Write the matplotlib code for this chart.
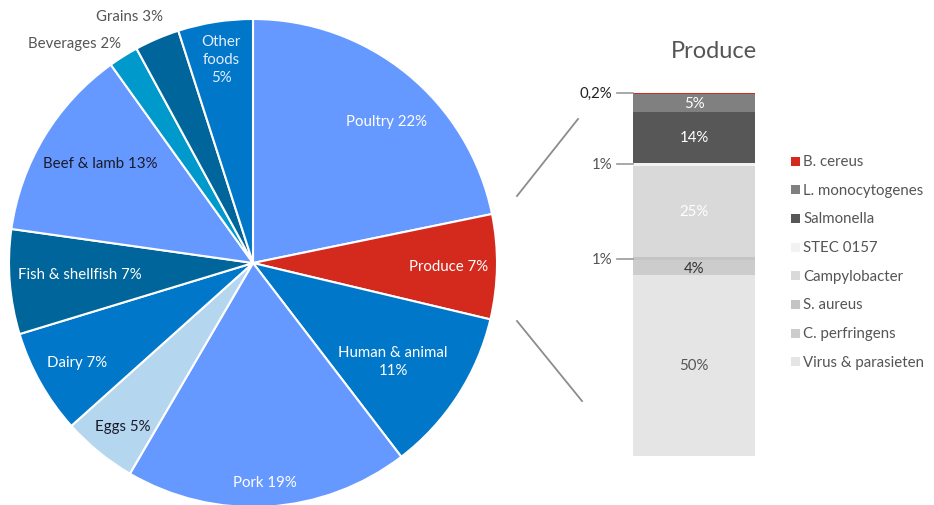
import numpy as np
import matplotlib.pyplot as plt
from matplotlib.lines import Line2D
from matplotlib.patches import Rectangle

plt.rcParams['font.family'] = ['Lato', 'DejaVu Sans']

# food categories (clockwise from the top)
foods = ["Poultry", "Produce", "Human & animal", "Pork", "Eggs", "Dairy",
         "Fish & shellfish", "Beef & lamb", "Beverages", "Grains", "Other foods"]
food_pct = [22, 7, 11, 19, 5, 7, 7, 13, 2, 3, 5]
food_labels = ["Poultry 22%", "Produce 7%", "Human & animal\n11%", "Pork 19%",
               "Eggs 5%", "Dairy 7%", "Fish & shellfish 7%", "Beef & lamb 13%",
               "Beverages 2%", "Grains 3%", "Other\nfoods\n5%"]

# pathogens within produce (top to bottom of the bar)
pathogens = ["B. cereus", "L. monocytogenes", "Salmonella", "STEC O157",
             "Campylobacter", "S. aureus", "C. perfringens", "Virus & parasieten"]
pathogen_pct = [0.2, 5, 14, 1, 25, 1, 4, 50]
pathogen_labels = ["0,2%", "5%", "14%", "1%", "25%", "1%", "4%", "50%"]
legend_names = ["B. cereus", "L. monocytogenes", "Salmonella", "STEC 0157",
                "Campylobacter", "S. aureus", "C. perfringens", "Virus & parasieten"]

LIGHT = "#6699ff"
MID = "#0077c8"
DARK = "#00659a"
pie_colors = [LIGHT, "#d42a1d", MID, LIGHT, "#b5d6ef", MID, DARK, LIGHT,
              "#0099cc", DARK, MID]
# text colour, label radius, angle shift
pie_text = [
    ("white", 0.80, -4), ("white", 0.80, 0), ("white", 0.70, -2),
    ("white", 0.90, -0.5), ("#1a1a2a", 0.855, 0.7), ("white", 0.826, 0),
    ("white", 0.71, -0.7), ("#1a1a2a", 0.75, -2), ("#555555", 1.16, 7),
    ("#555555", 1.13, 3.4), ("#e4ecff", 0.846, 0),
]

bar_colors = ["#d42a1d", "#808080", "#575757", "#f2f2f2", "#d9d9d9",
              "#c4c4c4", "#cccccc", "#e5e5e5"]
bar_text = ["none", "white", "white", "none", "white", "none", "#333333", "#555555"]

W, H = 934, 506
fig = plt.figure(figsize=(W / 100, H / 100), dpi=100)

def px_axes(x0, y0, x1, y1):
    return fig.add_axes([x0 / W, 1 - y1 / H, (x1 - x0) / W, (y1 - y0) / H])

# --- pie ---
ax = px_axes(9, 20, 497, 508)
wedges, _ = ax.pie(food_pct, colors=pie_colors, startangle=90, counterclock=False,
                   wedgeprops=dict(edgecolor="white", linewidth=1.5))
ax.set_xlim(-1, 1)
ax.set_ylim(-1, 1)
ax.set_aspect("equal")
ax.axis("off")
for w, lab, (tc, r, shift) in zip(wedges, food_labels, pie_text):
    ang = np.deg2rad((w.theta1 + w.theta2) / 2 + shift)
    ax.text(r * np.cos(ang), r * np.sin(ang), lab, ha="center", va="center",
            color=tc, fontsize=10.8, linespacing=1.4, clip_on=False)

# --- stacked bar ---
bx = px_axes(633, 94, 755, 457)
total = sum(pathogen_pct)
tops = total - np.cumsum([0] + pathogen_pct[:-1])
bars = bx.bar([0] * len(pathogen_pct), [-p for p in pathogen_pct], bottom=tops,
              width=1, color=bar_colors, edgecolor="none", align="center")
# keep the thin B. cereus sliver visible
bars[0].set_edgecolor(bar_colors[0])
bars[0].set_linewidth(1.2)
bx.set_xlim(-0.5, 0.5)
bx.set_ylim(0, total)
bx.axis("off")
for top, p, lab, tc in zip(tops, pathogen_pct, pathogen_labels, bar_text):
    mid = top - p / 2
    if tc != "none":
        bx.text(0, mid, lab, ha="center", va="center", color=tc, fontsize=10.8)
    else:
        bx.plot([-0.63, -0.5], [mid, mid], color="#999999", lw=1.2, clip_on=False)
        bx.text(-0.67, mid, lab, ha="right", va="center", fontsize=10.8,
                color="#222222" if p < 1 else "#555555", clip_on=False)

fig.text(714 / W, 1 - 51 / H, "Produce", ha="center", va="center",
         fontsize=17, color="#555555")

# lines linking the produce slice to the bar
for (x0, y0), (x1, y1) in [((517, 197), (578, 120)), ((517, 322), (582, 402))]:
    fig.add_artist(Line2D([x0 / W, x1 / W], [1 - y0 / H, 1 - y1 / H],
                          transform=fig.transFigure, color="#8c8c8c", lw=1.3))

# legend
for i, (name, c) in enumerate(zip(legend_names, bar_colors)):
    y = 1 - (162 + i * 28.7) / H
    fig.add_artist(Rectangle((791 / W, y - 4.5 / H), 9 / W, 9 / H,
                             transform=fig.transFigure, color=c, lw=0))
    fig.text(803 / W, y, name, ha="left", va="center", fontsize=10.8, color="#555555")

fig.savefig("out.png", dpi=100)
